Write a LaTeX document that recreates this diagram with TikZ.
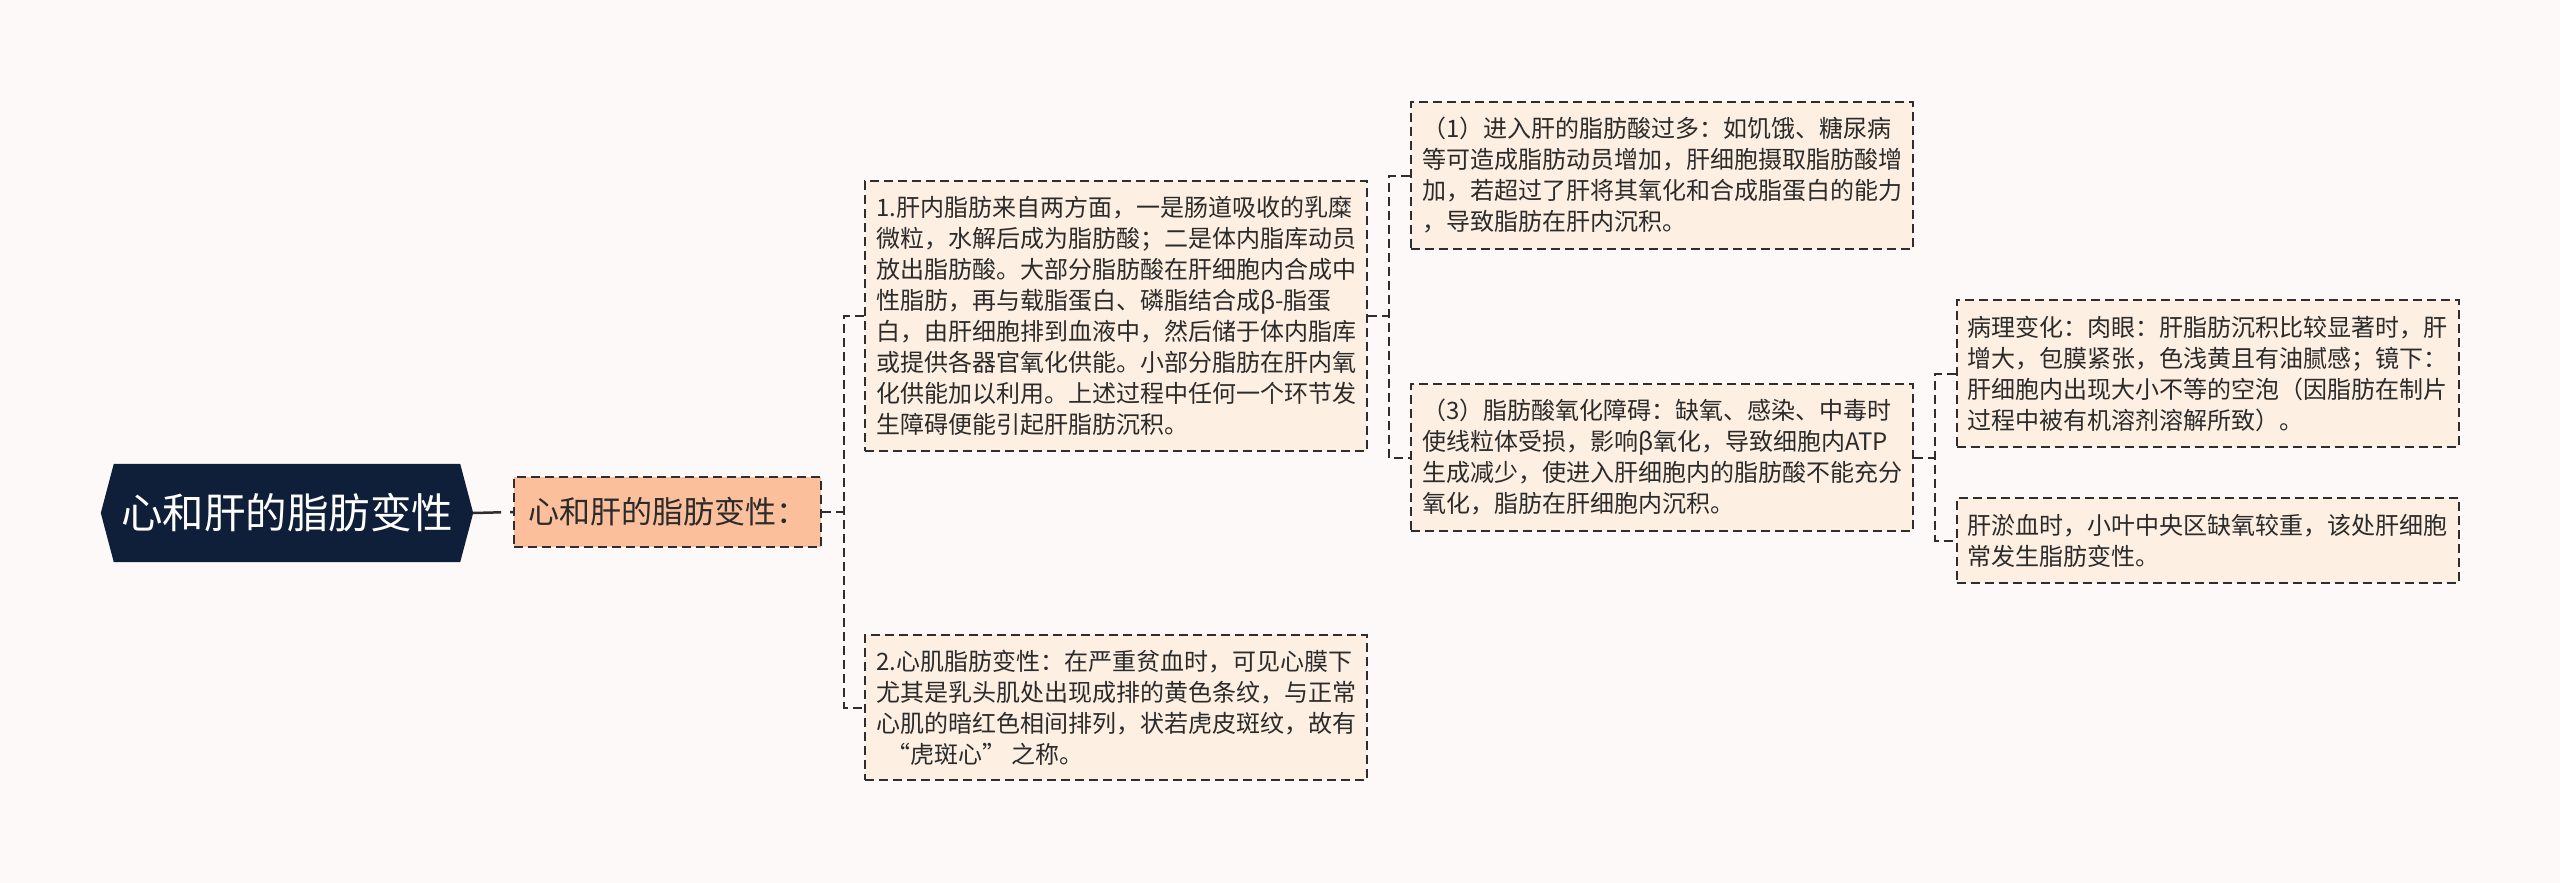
\documentclass[tikz,border=0pt]{standalone}
\usepackage{fontspec}
\setmainfont{Noto Sans CJK SC}
\usetikzlibrary{backgrounds}
\definecolor{bgc}{HTML}{FDF9F8}
\definecolor{boxc}{HTML}{FDEFE2}
\definecolor{lvlc}{HTML}{FBBF9C}
\definecolor{rootc}{HTML}{0F1F39}
\definecolor{linec}{HTML}{2E2E2E}
\definecolor{txtc}{HTML}{2B2B2B}
\begin{document}
\begin{tikzpicture}[x=1pt,y=-1pt,
  dashline/.style={draw=linec,line width=2pt,dash pattern=on 9pt off 5pt},
  conn/.style={dashline},
  rootnode/.style={minimum width=372pt,minimum height=98pt,inner sep=0pt,text=white,font=\fontsize{41.5pt}{48pt}\selectfont},
  lvlbox/.style={dashline,fill=lvlc,minimum width=307pt,minimum height=70pt,inner sep=0pt,text=txtc,font=\fontsize{31pt}{36pt}\selectfont},
  infobox/.style={dashline,fill=boxc,minimum width=502pt,inner xsep=10pt,inner ysep=0pt,align=left,text=txtc,font=\fontsize{24pt}{31pt}\selectfont}]
\useasboundingbox (0,0) rectangle (2560,883);

\node[rootnode] (root) at (287,513) {心和肝的脂肪变性};
\node[lvlbox] (l1) at (667.5,512) {心和肝的脂肪变性：};

\node[infobox,minimum height=270pt] (b1) at (1116,316) {1.肝内脂肪来自两方面，一是肠道吸收的乳糜\\微粒，水解后成为脂肪酸；二是体内脂库动员\\放出脂肪酸。大部分脂肪酸在肝细胞内合成中\\性脂肪，再与载脂蛋白、磷脂结合成β-脂蛋\\白，由肝细胞排到血液中，然后储于体内脂库\\或提供各器官氧化供能。小部分脂肪在肝内氧\\化供能加以利用。上述过程中任何一个环节发\\生障碍便能引起肝脂肪沉积。};
\node[infobox,minimum height=145pt] (b2) at (1116,707.5) {2.心肌脂肪变性：在严重贫血时，可见心膜下\\尤其是乳头肌处出现成排的黄色条纹，与正常\\心肌的暗红色相间排列，状若虎皮斑纹，故有\\\hspace*{0.45em}“虎斑心”\hspace{0.2em}之称。};

\node[infobox,minimum height=147pt] (c1) at (1662,175.5) {（1）进入肝的脂肪酸过多：如饥饿、糖尿病\\等可造成脂肪动员增加，肝细胞摄取脂肪酸增\\加，若超过了肝将其氧化和合成脂蛋白的能力\\，导致脂肪在肝内沉积。};
\node[infobox,minimum height=147pt] (c3) at (1662,457.5) {（3）脂肪酸氧化障碍：缺氧、感染、中毒时\\使线粒体受损，影响β氧化，导致细胞内ATP\\生成减少，使进入肝细胞内的脂肪酸不能充分\\氧化，脂肪在肝细胞内沉积。};

\node[infobox,minimum height=147pt] (d1) at (2207.5,373.5) {病理变化：肉眼：肝脂肪沉积比较显著时，肝\\增大，包膜紧张，色浅黄且有油腻感；镜下：\\肝细胞内出现大小不等的空泡（因脂肪在制片\\过程中被有机溶剂溶解所致）。};
\node[infobox,minimum height=85pt] (d2) at (2207.5,540.5) {肝淤血时，小叶中央区缺氧较重，该处肝细胞\\常发生脂肪变性。};

\begin{scope}[on background layer]
  \fill[bgc] (0,0) rectangle (2560,883);
  \fill[rootc] (root.west) -- ([xshift=13pt]root.north west) -- ([xshift=-13pt]root.north east) -- (root.east) -- ([xshift=-13pt]root.south east) -- ([xshift=13pt]root.south west) -- cycle;
\end{scope}

\coordinate (s1) at (844,0);
\coordinate (s2) at (1389,0);
\coordinate (s3) at (1935,0);

\draw[draw=linec,line width=2.5pt,dash pattern=on 28pt off 9pt on 10pt] (root.east) -- (l1.west);

\draw[conn] (l1.east) -- (l1.east -| s1);
\draw[conn] (b1.west) -- (b1.west -| s1) -- (b2.west -| s1) -- (b2.west);

\draw[conn] (b1.east) -- (b1.east -| s2);
\draw[conn] (c1.west) -- (c1.west -| s2) -- (c3.west -| s2) -- (c3.west);

\draw[conn] (c3.east) -- (c3.east -| s3);
\draw[conn] (d1.west) -- (d1.west -| s3) -- (d2.west -| s3) -- (d2.west);
\end{tikzpicture}
\end{document}
